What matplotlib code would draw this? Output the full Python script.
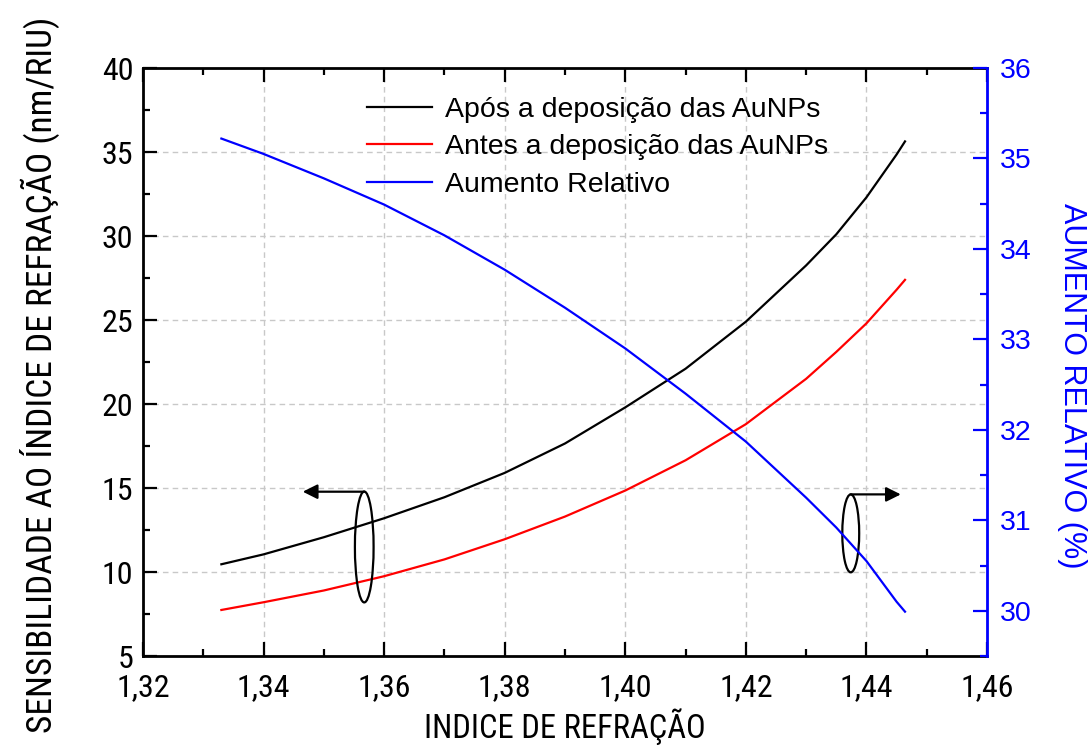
import matplotlib
matplotlib.use('Agg')
import matplotlib.pyplot as plt
from matplotlib.patches import Ellipse, FancyArrowPatch
from matplotlib.ticker import MultipleLocator, FuncFormatter
from matplotlib import font_manager

# ---------------- data ----------------
indice = [1.333, 1.34, 1.35, 1.36, 1.37, 1.38, 1.39, 1.40, 1.41, 1.42, 1.43, 1.435, 1.44, 1.445, 1.4464]
apos = [10.46, 11.05, 12.07, 13.2, 14.45, 15.9, 17.65, 19.8, 22.1, 24.9, 28.25, 30.1, 32.3, 34.85, 35.63]
antes = [7.74, 8.2, 8.9, 9.75, 10.75, 11.95, 13.3, 14.85, 16.65, 18.8, 21.5, 23.1, 24.8, 26.8, 27.39]
aumento = [35.22, 35.05, 34.78, 34.49, 34.15, 33.77, 33.35, 32.9, 32.4, 31.87, 31.25, 30.92, 30.55, 30.1, 29.99]

labels = ["Após a deposição das AuNPs", "Antes a deposição das AuNPs", "Aumento Relativo"]
xlabel = "INDICE DE REFRAÇÃO"
ylabel_left = "SENSIBILIDADE AO ÍNDICE DE REFRAÇÃO (nm/RIU)"
ylabel_right = "AUMENTO RELATIVO (%)"

# ---------------- fonts ----------------
avail = {f.name for f in font_manager.fontManager.ttflist}
narrow = 'Liberation Sans'
for cand in ['Liberation Sans Narrow', 'Roboto Condensed', 'Archivo Narrow', 'PT Sans Narrow']:
    if cand in avail:
        narrow = cand
        break
regular = 'Liberation Sans'

fig = plt.figure(figsize=(10.88, 7.49), dpi=100)
ax = fig.add_axes([143/1088, 1-656/749, (987-143)/1088, (656-68)/749])
ax2 = ax.twinx()

l1, = ax.plot(indice, apos, color='black', lw=1.6, zorder=3)
l2, = ax.plot(indice, antes, color='#ff0000', lw=1.6, zorder=3)
l3, = ax2.plot(indice, aumento, color='#0000ff', lw=1.6, zorder=3)

ax.set_xlim(1.32, 1.46)
ax.set_ylim(5, 40)
ax2.set_ylim(29.5, 36)

ax.xaxis.set_major_locator(MultipleLocator(0.02))
ax.xaxis.set_minor_locator(MultipleLocator(0.01))
ax.yaxis.set_major_locator(MultipleLocator(5))
ax.yaxis.set_minor_locator(MultipleLocator(2.5))
ax2.yaxis.set_major_locator(MultipleLocator(1))
ax2.yaxis.set_minor_locator(MultipleLocator(0.5))

ax.xaxis.set_major_formatter(FuncFormatter(lambda v, p: f"{v:.2f}".replace('.', ',')))
ax.yaxis.set_major_formatter(FuncFormatter(lambda v, p: f"{v:.0f}"))
ax2.yaxis.set_major_formatter(FuncFormatter(lambda v, p: f"{v:.0f}"))

ax.grid(True, which='major', color='#c8c8c8', ls=(0, (4, 3)), lw=1.0, zorder=0)
ax.set_axisbelow(True)

for s in ['left', 'bottom', 'top']:
    ax.spines[s].set_linewidth(2.0)
    ax.spines[s].set_color('black')
ax2.spines['right'].set_color('#0000ff')
ax2.spines['right'].set_linewidth(2.0)
for s in ['left', 'bottom', 'top']:
    ax2.spines[s].set_visible(False)
ax.spines['right'].set_visible(False)

ax.tick_params(axis='both', which='major', direction='in', length=10, width=1.6,
               top=True, right=False, labelsize=23)
ax.tick_params(axis='x', which='major', pad=12)
ax.tick_params(axis='y', which='major', pad=7)
ax.tick_params(axis='both', which='minor', direction='in', length=5, width=1.6,
               top=True, right=False)
ax2.tick_params(axis='y', which='major', direction='in', length=10, width=1.6,
                colors='#0000ff', labelsize=20.5, pad=9)
ax2.tick_params(axis='y', which='minor', direction='in', length=5, width=1.6,
                colors='#0000ff')

for t in ax.get_xticklabels() + ax.get_yticklabels():
    t.set_fontfamily(narrow)
for t in ax2.get_yticklabels():
    t.set_fontfamily(regular)
    t.set_color('#0000ff')

ax.set_xlabel(xlabel, fontsize=23, family=narrow, va='center', ha='center')
ax.xaxis.set_label_coords(0.5, -(727-656)/588, transform=ax.transAxes)
ax.set_ylabel(ylabel_left, fontsize=24, family=narrow, va='center', ha='center')
ax.yaxis.set_label_coords((40-143)/844, (656-375)/588, transform=ax.transAxes)
ax2.set_ylabel(ylabel_right, fontsize=22, family=regular, color='#0000ff',
               rotation=270, va='center', ha='center')
ax2.yaxis.set_label_coords((1072-143)/844, (656-386)/588, transform=ax2.transAxes)

# fit the condensed axis titles to the extent they occupy in the reference
fig.canvas.draw()
r = fig.canvas.get_renderer()
bx = ax.xaxis.label.get_window_extent(r)
ax.xaxis.label.set_fontsize(min(23 * 317.0 / bx.width, 23.5))
by = ax.yaxis.label.get_window_extent(r)
ax.yaxis.label.set_fontsize(min(24 * 730.0 / by.height, 25.5))

leg = ax2.legend([l1, l2, l3], labels, loc='upper left',
                 bbox_to_anchor=(367/1088, 1-97/749), bbox_transform=fig.transFigure,
                 frameon=False, prop={'family': regular, 'size': 20.5},
                 handlelength=2.3, handletextpad=0.45, labelspacing=0.4,
                 borderpad=0, borderaxespad=0)

# ---------------- annotations (ellipses + arrows) ----------------
ell1 = Ellipse((1.3567, 11.49), width=0.0031, height=6.6, fill=False,
               edgecolor='black', lw=1.6, zorder=5)
ax.add_patch(ell1)
arr1 = FancyArrowPatch((1.3567, 14.78), (1.3465, 14.78), transform=ax.transData,
                       arrowstyle='-|>', mutation_scale=22, color='black', lw=1.6,
                       shrinkA=0, shrinkB=0, zorder=5)
ax.add_patch(arr1)

ell2 = Ellipse((1.4374, 12.30), width=0.0028, height=4.64, fill=False,
               edgecolor='black', lw=1.6, zorder=5)
ax.add_patch(ell2)
arr2 = FancyArrowPatch((1.4374, 14.62), (1.4457, 14.62), transform=ax.transData,
                       arrowstyle='-|>', mutation_scale=22, color='black', lw=1.6,
                       shrinkA=0, shrinkB=0, zorder=5)
ax.add_patch(arr2)

fig.savefig('out.png', dpi=100)
